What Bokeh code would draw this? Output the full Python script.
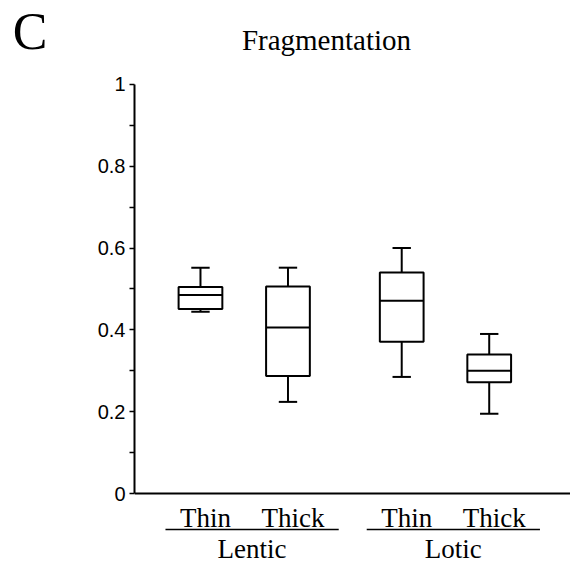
from bokeh.plotting import figure
from bokeh.models import FixedTicker, Span, LinearAxis
from bokeh.core.properties import value
from bokeh.embed import file_html
from bokeh.resources import INLINE

# ---- data ----
groups = ["Lentic", "Lotic"]
group_center = [1.5, 3.8]
categories = ["Thin", "Thick", "Thin", "Thick"]
x_pos = [1.0, 2.0, 3.3, 4.3]
lower = [0.444, 0.224, 0.285, 0.195]
q1 = [0.451, 0.287, 0.371, 0.272]
median = [0.485, 0.406, 0.471, 0.300]
q3 = [0.505, 0.506, 0.540, 0.340]
upper = [0.552, 0.552, 0.600, 0.390]
y_ticks = [0, 0.2, 0.4, 0.6, 0.8, 1.0]
y_tick_labels = ["0", "0.2", "0.4", "0.6", "0.8", "1"]
y_minor = [0.1, 0.3, 0.5, 0.7, 0.9]
title_text = "Fragmentation"
panel_letter = "C"

SERIF = "Liberation Serif"
SANS = "Liberation Sans"
BOX_W = 0.5
CAP_W = 0.21

p = figure(width=570, height=563, x_range=(0.246, 5.229), y_range=(-0.171, 1.205),
           x_axis_location=None, toolbar_location=None, output_backend="svg",
           min_border_left=134, min_border_right=0, min_border_top=0, min_border_bottom=0)
p.outline_line_color = None
p.grid.visible = False
p.background_fill_color = "white"
p.border_fill_color = "white"

ax = p.yaxis[0]
ax.ticker = FixedTicker(ticks=y_ticks, minor_ticks=y_minor)
ax.major_label_overrides = {t: s for t, s in zip(y_ticks, y_tick_labels)}
ax.bounds = (0, 1)
ax.axis_line_width = 2
ax.axis_line_color = "black"
ax.major_tick_in = 0
ax.major_tick_out = 5
ax.minor_tick_in = 0
ax.minor_tick_out = 5
ax.major_tick_line_width = 1.5
ax.minor_tick_line_width = 1.5
ax.major_tick_line_color = "black"
ax.minor_tick_line_color = "black"
ax.major_label_standoff = 4
ax.major_label_text_font = SANS
ax.major_label_text_font_size = "20px"
ax.major_label_text_color = "black"

# panel letter, drawn as the single label of an outer, line-less axis
letter_y = 1.129
letter_axis = LinearAxis(ticker=FixedTicker(ticks=[letter_y], minor_ticks=[]),
                         major_label_overrides={letter_y: panel_letter},
                         axis_line_color=None, major_tick_line_color=None,
                         minor_tick_line_color=None, major_tick_out=0, major_tick_in=0,
                         major_label_standoff=47, major_label_text_font=SERIF,
                         major_label_text_font_size="52px", major_label_text_color="black")
p.add_layout(letter_axis, "left")

# x axis line at y = 0
p.add_layout(Span(location=0, dimension="width", line_color="black", line_width=2))

# whiskers
p.segment(x0=x_pos, y0=q3, x1=x_pos, y1=upper, line_color="black", line_width=2)
p.segment(x0=x_pos, y0=q1, x1=x_pos, y1=lower, line_color="black", line_width=2)
p.segment(x0=[x - CAP_W / 2 for x in x_pos], y0=upper, x1=[x + CAP_W / 2 for x in x_pos], y1=upper,
          line_color="black", line_width=2)
p.segment(x0=[x - CAP_W / 2 for x in x_pos], y0=lower, x1=[x + CAP_W / 2 for x in x_pos], y1=lower,
          line_color="black", line_width=2)
# boxes
p.vbar(x=x_pos, width=BOX_W, top=q3, bottom=q1, fill_color="white", line_color="black", line_width=2)
p.segment(x0=[x - BOX_W / 2 for x in x_pos], y0=median, x1=[x + BOX_W / 2 for x in x_pos], y1=median,
          line_color="black", line_width=2)

# category labels
p.text(x=x_pos, y=[-0.059] * len(x_pos), text=categories, x_offset=5,
       text_font=value(SERIF), text_font_size="27px", text_align="center",
       text_baseline="alphabetic", text_color="black")
# group underlines
p.segment(x0=[c - 0.9 for c in group_center], y0=[-0.088] * 2,
          x1=[c + 1.08 for c in group_center], y1=[-0.088] * 2,
          line_color="black", line_width=1.5)
# group labels
p.text(x=[c + 0.09 for c in group_center], y=[-0.135] * 2, text=groups,
       text_font=value(SERIF), text_font_size="27px", text_align="center",
       text_baseline="alphabetic", text_color="black")
# title
p.text(x=[2.44], y=[1.108], text=[title_text], text_font=value(SERIF), text_font_size="29px",
       text_align="center", text_baseline="alphabetic", text_color="black")

open("out.html", "w").write(file_html(p, INLINE))
